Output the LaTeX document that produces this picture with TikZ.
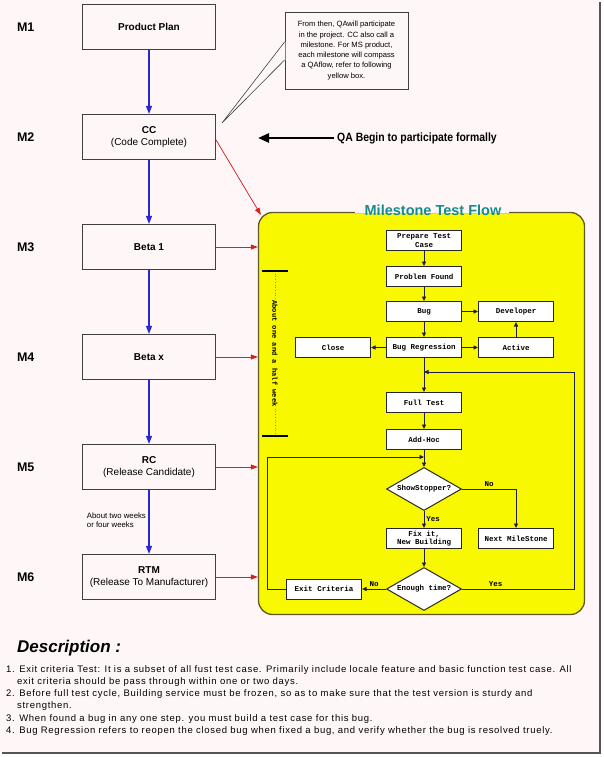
\documentclass[tikz,border=0pt]{standalone}
\usepackage{fontspec}
\setmainfont{Liberation Sans}
\newfontfamily\flowfont{Liberation Mono}
\usepackage{xcolor}
\usetikzlibrary{arrows.meta, positioning, shapes.geometric, calc}
\definecolor{bgpink}{RGB}{255,247,247}
\definecolor{frameyellow}{RGB}{248,248,0}
\definecolor{frameedge}{RGB}{96,88,40}
\definecolor{titleteal}{RGB}{20,140,140}
\definecolor{arrowblue}{RGB}{40,40,210}
\definecolor{arrowred}{RGB}{220,30,30}
\definecolor{flownavy}{RGB}{30,30,70}
\definecolor{shadowgray}{RGB}{85,85,85}

\begin{document}
\begin{tikzpicture}[x=1pt, y=-1pt,
  stage/.style={draw=black!75, line width=1.2pt, fill=bgpink, minimum width=133pt, minimum height=45pt, align=center, inner sep=2pt, font=\fontsize{10}{12.5}\selectfont},
  mlab/.style={font=\fontsize{12.5}{14}\selectfont\bfseries},
  flowbox/.style={draw=black!85, line width=1pt, fill=white, minimum width=75pt, minimum height=20pt, inner sep=1pt, align=center, font=\flowfont\bfseries\fontsize{7.5}{8.5}\selectfont},
  decision/.style={diamond, aspect=1.7, draw=black!85, line width=1pt, fill=white, minimum width=75pt, minimum height=43pt, inner sep=0pt, font=\flowfont\bfseries\fontsize{7.5}{8.5}\selectfont},
  flowframe/.style={draw=frameedge, line width=1.3pt, fill=frameyellow, rounded corners=14pt, minimum width=326pt, minimum height=402pt, inner sep=0pt},
  mileedge/.style={-{Triangle[length=8pt, width=6pt]}, draw=arrowblue, fill=arrowblue, line width=1.2pt},
  feededge/.style={-{Triangle[length=7pt, width=5pt]}, draw=arrowred, fill=arrowred, line width=0.7pt},
  flowedge/.style={-{Triangle[length=4.5pt, width=4pt]}, draw=flownavy, line width=0.9pt},
  qaedge/.style={-{Triangle[length=11pt, width=9pt]}, line width=2.6pt},
  lab/.style={font=\flowfont\bfseries\fontsize{7.5}{8.5}\selectfont, inner sep=2pt},
  small/.style={font=\fontsize{7.8}{9}\selectfont, align=left, inner sep=2.5pt}
]
\useasboundingbox (0,0) rectangle (603,757);
\fill[white] (0,0) rectangle (603,757);
\fill[bgpink] (0,0) rectangle (599,752);
\draw[shadowgray, line width=2.5pt] (600.2,2) -- (600.2,753.2) -- (2,753.2);

% milestones on the left
\node[stage] (plan) at (149,27) {\textbf{Product Plan}};
\node[stage, below=63.8pt of plan] (cc) {\textbf{CC}\\(Code Complete)};
\node[stage, below=63.8pt of cc] (beta1) {\textbf{Beta 1}};
\node[stage, below=63.8pt of beta1] (betax) {\textbf{Beta x}};
\node[stage, below=63.8pt of betax] (rc) {\textbf{RC}\\(Release Candidate)};
\node[stage, below=63.8pt of rc] (rtm) {\textbf{RTM}\\(Release To Manufacturer)};

\node[mlab, left=44pt of plan] (m1) {M1};
\node[mlab, left=44pt of cc] (m2) {M2};
\node[mlab, left=44pt of beta1] (m3) {M3};
\node[mlab, left=44pt of betax] (m4) {M4};
\node[mlab, left=44pt of rc] (m5) {M5};
\node[mlab, left=44pt of rtm] (m6) {M6};

\draw[mileedge] (plan) -- (cc);
\draw[mileedge] (cc) -- (beta1);
\draw[mileedge] (beta1) -- (betax);
\draw[mileedge] (betax) -- (rc);
\draw[mileedge] (rc) -- node[small, left, pos=0.47] {About two weeks\\or four weeks} (rtm);

% callout
\node[draw=black!75, line width=0.9pt, fill=bgpink, minimum width=123pt, minimum height=77pt, align=center, inner sep=2pt, font=\fontsize{7.6}{10.3}\selectfont] (callout) at (346.5,50.5)
  {From then, QAwill participate\\in the project. CC also call a\\milestone. For MS product,\\each milestone will compass\\a QAflow, refer to following\\yellow box.};
\coordinate (calltip) at (222,123);
\fill[bgpink] ([xshift=0.8pt,yshift=8.5pt]callout.west) -- (calltip) -- ([xshift=0.8pt,yshift=-9.5pt]callout.west) -- cycle;
\draw[line width=0.6pt, black!75] ([yshift=8.5pt]callout.west) -- (calltip) -- ([yshift=-9.5pt]callout.west);

\node[anchor=west, font=\fontsize{12}{14}\selectfont\bfseries, inner sep=3pt] (qabegin) at (334,138) {\scalebox{0.87}[1]{QA Begin to participate formally}};
\coordinate (qatip) at (258,138);
\draw[qaedge] (qabegin.west) -- (qatip);

% yellow test flow
\node[flowframe] (frame) at (421.5,413.5) {};
\fill[bgpink] ([xshift=-67pt,yshift=1.6pt]frame.north) rectangle ([xshift=87pt,yshift=-1.6pt]frame.north);
\node[font=\fontsize{14.5}{16}\selectfont\bfseries, text=titleteal] (title) at (433,210.5) {Milestone Test Flow};

\draw[feededge] ([yshift=-3pt]cc.east) -- ([xshift=3pt,yshift=-3pt]frame.north west);
\draw[feededge] (beta1.east) -- (beta1.east -| frame.west);
\draw[feededge] (betax.east) -- (betax.east -| frame.west);
\draw[feededge] (rc.east) -- (rc.east -| frame.west);
\draw[feededge] (rtm.east) -- (rtm.east -| frame.west);

\coordinate (weektop) at (275,271);
\coordinate (weekbot) at (275,436);
\draw[dotted, black!45, line width=0.7pt] (weektop) -- (weekbot);
\node[rotate=-90, fill=frameyellow, inner sep=1.5pt, font=\flowfont\bfseries\fontsize{7.1}{8}\selectfont] (weeknote) at ($(weektop)!0.5!(weekbot)$) {About one and a half week};
\draw[line width=1.8pt] ([xshift=-13pt]weektop) -- ([xshift=13pt]weektop);
\draw[line width=1.8pt] ([xshift=-13pt]weekbot) -- ([xshift=13pt]weekbot);

\node[flowbox] (prep) at (424,240.5) {Prepare Test\\Case};
\node[flowbox, below=15pt of prep] (found) {Problem Found};
\node[flowbox, below=14pt of found] (bug) {Bug};
\node[flowbox, right=16pt of bug] (dev) {Developer};
\node[flowbox, below=15pt of bug] (bugreg) {Bug Regression};
\node[flowbox, right=16pt of bugreg] (active) {Active};
\node[flowbox, left=15pt of bugreg] (close) {Close};
\node[flowbox, below=34pt of bugreg] (fulltest) {Full Test};
\node[flowbox, below=16pt of fulltest] (adhoc) {Add-Hoc};
\node[decision, below=17pt of adhoc] (stopper) {ShowStopper?};
\node[flowbox, below=17pt of stopper] (fix) {Fix it,\\New Building};
\node[flowbox, right=16pt of fix] (next) {Next MileStone};
\node[decision, below=18pt of fix] (enough) {Enough time?};
\node[flowbox, left=24pt of enough] (exit) {Exit Criteria};

\coordinate (retest) at ([yshift=-14pt]bugreg.south);
\coordinate (readd) at ([yshift=-7pt]adhoc.south);

\draw[flowedge] (prep) -- (found);
\draw[flowedge] (found) -- (bug);
\draw[flowedge] (bug) -- (dev);
\draw[flowedge] (bug) -- (bugreg);
\draw[flowedge] (bugreg) -- (close);
\draw[flowedge] (bugreg) -- (active);
\draw[flowedge] (active) -- (dev);
\draw[flowedge] (bugreg) -- (fulltest);
\draw[flowedge] (fulltest) -- (adhoc);
\draw[flowedge] (adhoc) -- (stopper);
\draw[flowedge] (stopper) -- node[lab, right] {Yes} (fix);
\draw[flowedge] (stopper.east) -| node[lab, above, pos=0.25] {No} (next);
\draw[flowedge] (fix) -- (enough);
\draw[flowedge] (enough) -- node[lab, above] {No} (exit);
\draw[flowedge] (enough.east) -- node[lab, above, pos=0.3] {Yes} ++(112,0) |- (retest);
\draw[flowedge] (exit.west) -- ++(-19,0) |- (readd);

% description
\node[anchor=west, font=\fontsize{17}{19}\selectfont\bfseries\itshape, inner sep=0pt] (desctitle) at (17,648) {Description :};
\node[anchor=north west, align=left, inner sep=0pt, font=\fontsize{9.5}{12.3}\selectfont\addfontfeatures{LetterSpace=7.4}] (desclist) at (6,665)
  {1. Exit criteria Test: It is a subset of all fust test case. Primarily include locale feature and basic function test case. All\\
   \hspace*{11pt}exit criteria should be pass through within one or two days.\\
   2. Before full test cycle, Building service must be frozen, so as to make sure that the test version is sturdy and\\
   \hspace*{11pt}strengthen.\\
   3. When found a bug in any one step. you must build a test case for this bug.\\
   4. Bug Regression refers to reopen the closed bug when fixed a bug, and verify whether the bug is resolved truely.};
\end{tikzpicture}
\end{document}
